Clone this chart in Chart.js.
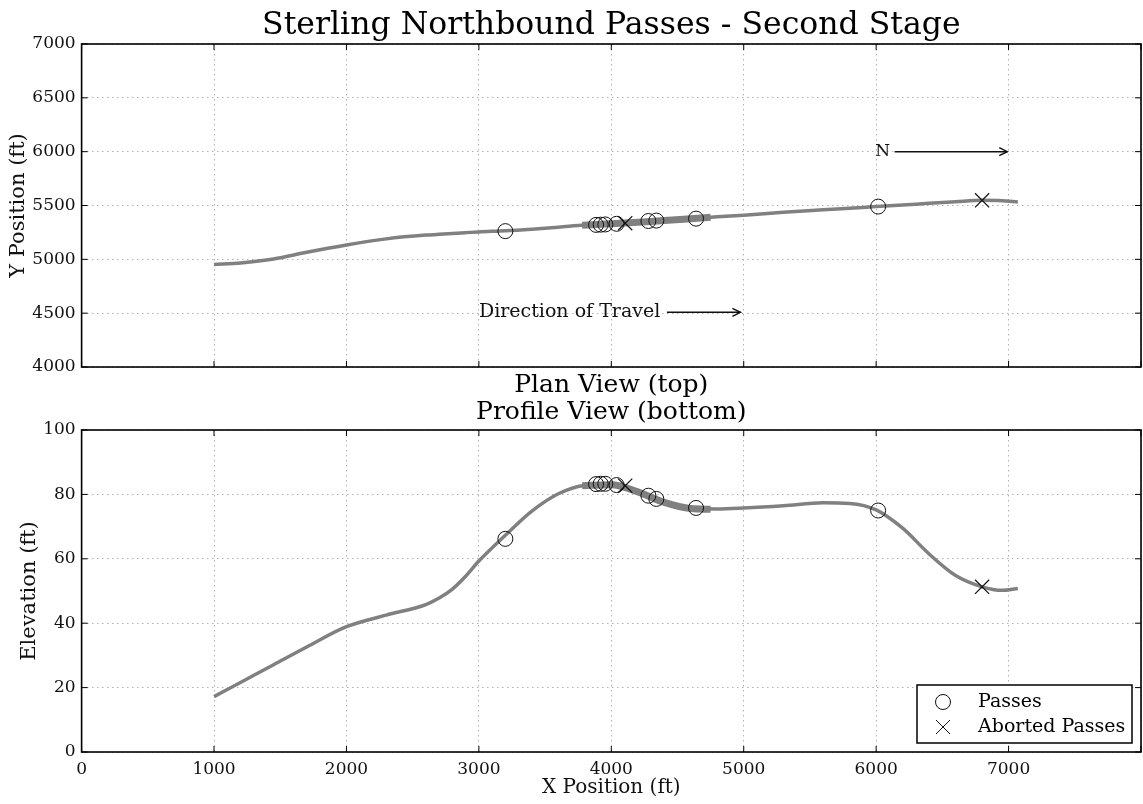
<!DOCTYPE html>
<html>
<head>
<meta charset="utf-8">
<title>Sterling Northbound Passes - Second Stage</title>
<script src="https://cdn.jsdelivr.net/npm/chart.js@4.4.1/dist/chart.umd.min.js"></script>
<style>
  html, body { margin: 0; padding: 0; background: #fff; }
  #wrap { position: relative; width: 1143px; height: 804px; overflow: hidden; }
  #planCanvas { position: absolute; left: 0; top: 0; }
  #profileCanvas { position: absolute; left: 0; top: 420px; }
</style>
</head>
<body>
<div id="wrap">
  <canvas id="planCanvas" width="1143" height="425"></canvas>
  <canvas id="profileCanvas" width="1143" height="384"></canvas>
</div>
<script>
// Track centre line (ft)
const trackX    = [1000, 1200, 1450, 1700, 2000, 2300, 2600, 2700, 2800, 2900, 3000, 3200, 3400, 3600, 3800, 4000, 4200, 4400, 4600, 4800, 5000, 5300, 5600, 5800, 6000, 6200, 6400, 6600, 6800, 6950, 7070];
const planY     = [4952, 4967, 5003, 5065, 5133, 5190, 5225, 5232, 5240, 5248, 5255, 5265, 5280, 5298, 5318, 5330, 5345, 5360, 5377, 5395, 5410, 5437, 5460, 5475, 5490, 5505, 5520, 5535, 5548, 5545, 5532];
const elevation = [17.2, 21.6, 27.1, 32.6, 38.9, 42.5, 45.8, 47.8, 50.6, 54.6, 59.3, 67.3, 74.8, 80.2, 82.8, 83.0, 80.8, 77.5, 75.6, 75.5, 75.8, 76.5, 77.4, 77.2, 75.2, 69.5, 61.5, 54.8, 51.3, 50.2, 50.8];

// overlapping pass traces (thicker band)
const bundleX     = [3780, 4000, 4200, 4400, 4600, 4750];
const bundlePlanY = [5317, 5330, 5345, 5360, 5377, 5390];
const bundleElev  = [82.7, 83.0, 80.8, 77.5, 75.6, 75.4];

// passes and aborted passes
const passX     = [3200, 3885, 3920, 3955, 4040, 4280, 4340, 4640, 6015];
const passPlanY = [5262, 5320, 5322, 5324, 5330, 5356, 5360, 5378, 5490];
const passElev  = [66.2, 83.2, 83.3, 83.3, 82.9, 79.6, 78.6, 75.8, 75.0];
const abortX     = [4105, 6800];
const abortPlanY = [5336, 5548];
const abortElev  = [82.7, 51.3];

// axis ranges / ticks
const xRange = [0, 8000], xStep = 1000;
const planRange = [4000, 7000], planStep = 500;
const elevRange = [0, 100], elevStep = 20;

// annotations (data coordinates)
const chartTitle = 'Sterling Northbound Passes - Second Stage';
const northLabel = { text: 'N', x: 6050, y: 6000, arrowFrom: 6140, arrowTo: 6990 };
const travelLabel = { text: 'Direction of Travel', x: 4370, y: 4508, arrowFrom: 4420, arrowTo: 4975 };

const SERIF = "'DejaVu Serif', 'Liberation Serif', serif";
const LINE_GREY = '#808080';

function pts(xs, ys) {
    return xs.map((x, i) => ({ x: x, y: ys[i] }));
}

function fixPadding(scale) {
    scale.paddingTop = 0;
    scale.paddingBottom = 0;
    scale.paddingLeft = 0;
    scale.paddingRight = 0;
}

function makeDatasets(lineY, bundleY, passY, abortY) {
    return [
        {
            label: 'Passes',
            data: pts(passX, passY),
            showLine: false,
            pointStyle: 'circle',
            pointRadius: 7.5,
            pointBorderWidth: 1,
            pointBorderColor: '#111',
            pointBackgroundColor: 'rgba(0,0,0,0)',
            order: 0
        },
        {
            label: 'Aborted Passes',
            data: pts(abortX, abortY),
            showLine: false,
            pointStyle: 'crossRot',
            pointRadius: 10,
            pointBorderWidth: 1.2,
            pointBorderColor: '#111',
            order: 0
        },
        {
            label: 'bundle',
            data: pts(bundleX, bundleY),
            borderColor: LINE_GREY,
            borderWidth: 7,
            pointRadius: 0,
            cubicInterpolationMode: 'monotone',
            order: 1
        },
        {
            label: 'track',
            data: pts(trackX, lineY),
            borderColor: LINE_GREY,
            borderWidth: 3.5,
            pointRadius: 0,
            cubicInterpolationMode: 'monotone',
            order: 2
        }
    ];
}

// frame on all four sides + matplotlib style inward ticks
const framePlugin = {
    id: 'frame',
    afterDraw(chart) {
        const ctx = chart.ctx;
        const a = chart.chartArea;
        const xs = chart.scales.x, ys = chart.scales.y;
        ctx.save();
        ctx.strokeStyle = '#000';
        ctx.lineWidth = 1;
        xs.ticks.forEach(t => {
            const px = xs.getPixelForValue(t.value);
            ctx.beginPath();
            ctx.moveTo(px, a.bottom); ctx.lineTo(px, a.bottom - 6);
            ctx.moveTo(px, a.top); ctx.lineTo(px, a.top + 6);
            ctx.stroke();
        });
        ys.ticks.forEach(t => {
            const py = ys.getPixelForValue(t.value);
            ctx.beginPath();
            ctx.moveTo(a.left, py); ctx.lineTo(a.left + 6, py);
            ctx.moveTo(a.right, py); ctx.lineTo(a.right - 6, py);
            ctx.stroke();
        });
        ctx.lineWidth = 1.6;
        ctx.strokeRect(a.left, a.top, a.right - a.left, a.bottom - a.top);
        ctx.restore();
    }
};

function drawArrow(ctx, x1, y, x2) {
    ctx.beginPath();
    ctx.moveTo(x1, y);
    ctx.lineTo(x2, y);
    ctx.stroke();
    ctx.beginPath();
    ctx.moveTo(x2 - 8, y - 4);
    ctx.lineTo(x2, y);
    ctx.lineTo(x2 - 8, y + 4);
    ctx.stroke();
}

const planNotesPlugin = {
    id: 'planNotes',
    afterDraw(chart) {
        const ctx = chart.ctx;
        const xs = chart.scales.x, ys = chart.scales.y;
        const a = chart.chartArea;
        const cx = (a.left + a.right) / 2;
        ctx.save();

        // title, centred over the plot area
        ctx.fillStyle = '#000';
        ctx.font = '31.5px ' + SERIF;
        ctx.textAlign = 'center';
        ctx.textBaseline = 'middle';
        ctx.fillText(chartTitle, cx, 26);

        ctx.fillStyle = '#111';
        ctx.strokeStyle = '#111';
        ctx.lineWidth = 1.5;

        // N arrow
        ctx.font = '17px ' + SERIF;
        ctx.textAlign = 'center';
        const ny = ys.getPixelForValue(northLabel.y);
        ctx.fillText(northLabel.text, xs.getPixelForValue(northLabel.x), ny);
        drawArrow(ctx, xs.getPixelForValue(northLabel.arrowFrom), ny, xs.getPixelForValue(northLabel.arrowTo));

        // direction of travel
        ctx.font = '19px ' + SERIF;
        ctx.textAlign = 'right';
        const ty = ys.getPixelForValue(travelLabel.y);
        ctx.fillText(travelLabel.text, xs.getPixelForValue(travelLabel.x), ty);
        drawArrow(ctx, xs.getPixelForValue(travelLabel.arrowFrom), ty, xs.getPixelForValue(travelLabel.arrowTo));

        // band between the two panels
        ctx.fillStyle = '#000';
        ctx.font = '25px ' + SERIF;
        ctx.textAlign = 'center';
        ctx.fillText('Plan View (top)', cx, a.bottom + 18);
        ctx.fillText('Profile View (bottom)', cx, a.bottom + 45);
        ctx.restore();
    }
};

const legendBoxPlugin = {
    id: 'legendBox',
    afterDraw(chart) {
        const ctx = chart.ctx;
        const a = chart.chartArea;
        const w = 215, h = 58;
        const right = a.right - 9, bottom = a.bottom - 9;
        const left = right - w, top = bottom - h;
        ctx.save();
        ctx.fillStyle = '#fff';
        ctx.fillRect(left, top, w, h);
        ctx.strokeStyle = '#000';
        ctx.lineWidth = 1.5;
        ctx.strokeRect(left, top, w, h);

        const sets = chart.data.datasets.slice(0, 2);
        sets.forEach((ds, i) => {
            const cy = top + 17 + i * 25;
            const sx = left + 26;
            ctx.strokeStyle = '#111';
            ctx.lineWidth = 1;
            ctx.beginPath();
            if (ds.pointStyle === 'circle') {
                ctx.arc(sx, cy, 7.5, 0, Math.PI * 2);
            } else {
                ctx.moveTo(sx - 7, cy - 7); ctx.lineTo(sx + 7, cy + 7);
                ctx.moveTo(sx + 7, cy - 7); ctx.lineTo(sx - 7, cy + 7);
            }
            ctx.stroke();
            ctx.fillStyle = '#000';
            ctx.font = '19px ' + SERIF;
            ctx.textAlign = 'left';
            ctx.textBaseline = 'middle';
            ctx.fillText(ds.label, left + 61, cy);
        });
        ctx.restore();
    }
};

function gridOpts() {
    return { color: '#b0b0b0', lineWidth: 1, drawTicks: false };
}
function borderOpts() {
    return { display: false, dash: [1.5, 3.5] };
}
const plainNum = (v) => String(v);

// ---- Plan view (top) ----
new Chart(document.getElementById('planCanvas'), {
    type: 'line',
    data: { datasets: makeDatasets(planY, bundlePlanY, passPlanY, abortPlanY) },
    plugins: [framePlugin, planNotesPlugin],
    options: {
        responsive: false,
        animation: false,
        events: [],
        layout: { autoPadding: false, padding: { top: 44, right: 2, bottom: 0, left: 0 } },
        plugins: {
            legend: { display: false },
            tooltip: { enabled: false },
            title: { display: false }
        },
        scales: {
            x: {
                type: 'linear',
                min: xRange[0], max: xRange[1],
                ticks: { display: false, stepSize: xStep },
                grid: gridOpts(),
                border: borderOpts(),
                afterFit: (s) => { fixPadding(s); s.height = 58; }
            },
            y: {
                min: planRange[0], max: planRange[1],
                ticks: { stepSize: planStep, color: '#111', padding: 6, font: { family: SERIF, size: 17 }, callback: plainNum },
                grid: gridOpts(),
                border: borderOpts(),
                title: {
                    display: true, text: 'Y Position (ft)', color: '#111',
                    font: { family: SERIF, size: 21 }, padding: { top: 6, bottom: 0 }
                },
                afterFit: (s) => { fixPadding(s); s.width = 81.6; }
            }
        }
    }
});

// ---- Profile view (bottom) ----
new Chart(document.getElementById('profileCanvas'), {
    type: 'line',
    data: { datasets: makeDatasets(elevation, bundleElev, passElev, abortElev) },
    plugins: [framePlugin, legendBoxPlugin],
    options: {
        responsive: false,
        animation: false,
        events: [],
        layout: { autoPadding: false, padding: { top: 10, right: 2, bottom: 0, left: 0 } },
        plugins: {
            legend: { display: false },
            tooltip: { enabled: false },
            title: { display: false }
        },
        scales: {
            x: {
                type: 'linear',
                min: xRange[0], max: xRange[1],
                ticks: {
                    stepSize: xStep, color: '#111', padding: 7,
                    font: { family: SERIF, size: 17 },
                    maxRotation: 0,
                    callback: (v) => v >= xRange[1] ? '' : String(v)
                },
                grid: gridOpts(),
                border: borderOpts(),
                title: {
                    display: true, text: 'X Position (ft)', color: '#111',
                    font: { family: SERIF, size: 20 }, padding: { top: 0, bottom: 4 }
                },
                afterFit: (s) => { fixPadding(s); s.height = 52; }
            },
            y: {
                min: elevRange[0], max: elevRange[1],
                ticks: { stepSize: elevStep, color: '#111', padding: 6, font: { family: SERIF, size: 17 }, callback: plainNum },
                grid: gridOpts(),
                border: borderOpts(),
                title: {
                    display: true, text: 'Elevation (ft)', color: '#111',
                    font: { family: SERIF, size: 21 }, padding: { top: 17, bottom: 0 }
                },
                afterFit: (s) => { fixPadding(s); s.width = 81.6; }
            }
        }
    }
});
</script>
</body>
</html>
